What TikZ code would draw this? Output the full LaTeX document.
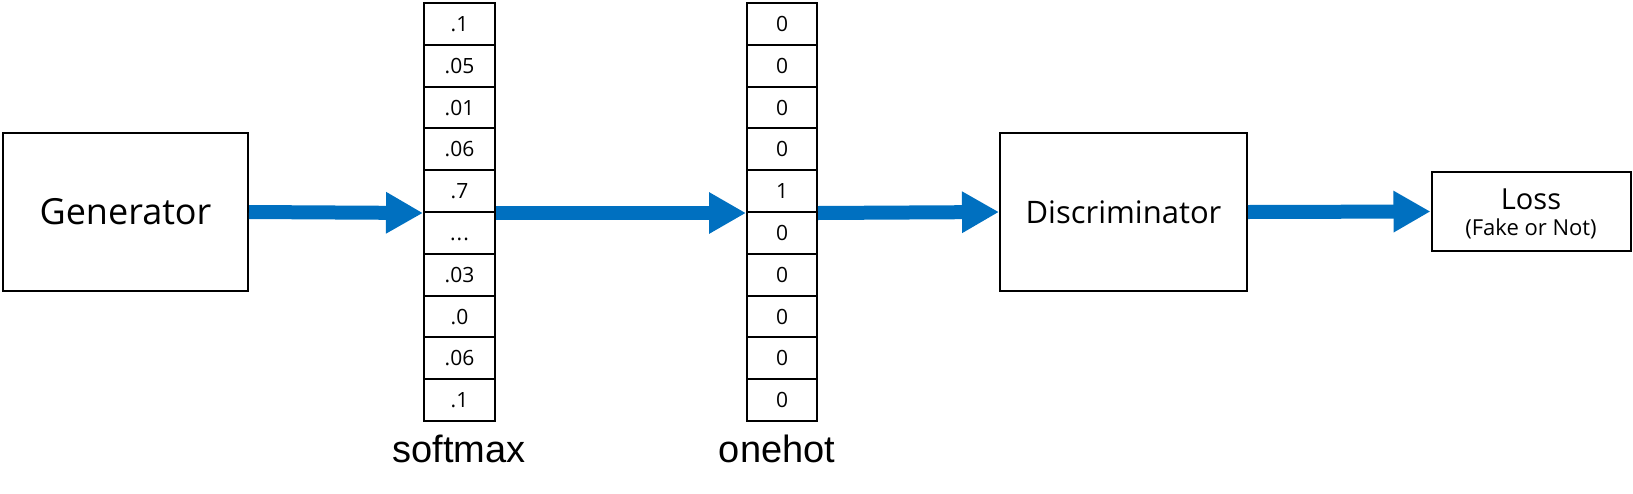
\documentclass[tikz,border=0pt]{standalone}
\usepackage{fontspec}
\newfontfamily\seg{Open Sans}
\newfontfamily\ari{Liberation Sans}
\usetikzlibrary{arrows.meta}
\definecolor{arrowblue}{HTML}{0070C0}
\newcommand\mythreedots{.\kern1pt.\kern1pt.}
\tikzset{
  bigbox/.style={draw=black, line width=2pt, minimum width=245pt, minimum height=158pt, inner sep=0pt},
  cellbox/.style={draw=black, line width=2pt, minimum width=71pt, minimum height=41.8pt, inner sep=0pt, font=\seg\fontsize{21}{24}\selectfont},
  collabel/.style={anchor=base, inner sep=0pt, font=\ari\fontsize{38}{42}\selectfont},
  flow/.style={draw=arrowblue, line width=14pt, -{Triangle[length=37pt,width=39pt]}, color=arrowblue},
}
\begin{document}
\begin{tikzpicture}[x=1pt,y=-1pt]
\useasboundingbox (0,0) rectangle (1633,493);
\node[bigbox, font=\seg\fontsize{36}{40}\selectfont] (gen) at (125.5,212) {Generator};
\node[bigbox, minimum width=247pt, font=\seg\fontsize{31}{36}\selectfont] (disc) at (1123.5,212) {Discriminator};
\node[draw=black, line width=2pt, minimum width=199pt, minimum height=79pt, inner sep=0pt] (loss) at (1531,211.5) {};
\node[anchor=base, inner sep=0pt, font=\seg\fontsize{29}{32}\selectfont] (losst) at (1531,209) {Loss};
\node[anchor=base, inner sep=0pt, font=\seg\fontsize{22}{26}\selectfont] (losssub) at (1531,235) {(Fake or Not)};
\foreach \v [count=\i] in {.1,.05,.01,.06,.7,\mythreedots,.03,.0,.06,.1} {
  \node[cellbox, text height=15pt, text depth=0pt] (s\i) at (459.5,{3+41.8*(\i-0.5)}) {\v};
}
\foreach \v [count=\i] in {0,0,0,0,1,0,0,0,0,0} {
  \node[cellbox, minimum width=70pt, text height=15pt, text depth=0pt] (o\i) at (782,{3+41.8*(\i-0.5)}) {\v};
}
\node[collabel] (smlabel) at (459,462) {softmax};
\node[collabel] (ohlabel) at (777,462) {onehot};
\draw[flow] (gen.east) -- (s5.south west);
\draw[flow] (s5.south east) -- (o5.south west);
\draw[flow] (o5.south east) -- (disc.west);
\draw[flow] (disc.east) -- (loss.west);
\end{tikzpicture}
\end{document}
